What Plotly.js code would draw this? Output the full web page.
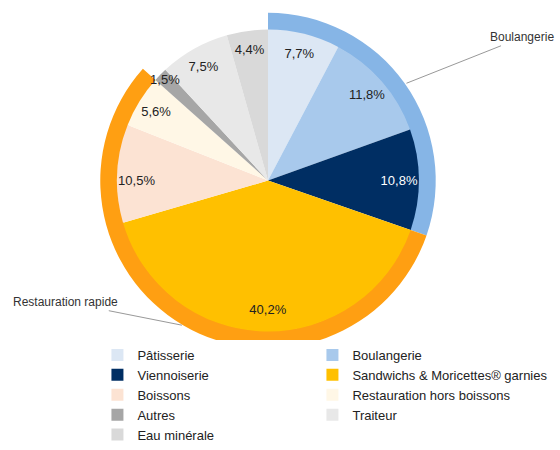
<!DOCTYPE html>
<html>
<head>
<meta charset="utf-8">
<script src="https://cdn.plot.ly/plotly-3.0.1.min.js"></script>
<style>
  html, body { margin: 0; padding: 0; background: #fff; }
  #plot { width: 560px; height: 450px; }
</style>
</head>
<body>
<div id="plot"></div>
<script>
// detail slices (clockwise from 12 o'clock)
var labels = ['Pâtisserie', 'Boulangerie', 'Viennoiserie', 'Sandwichs & Moricettes® garnies',
  'Boissons', 'Restauration hors boissons', 'Autres', 'Traiteur', 'Eau minérale'];
var values = [7.7, 11.8, 10.8, 40.2, 10.5, 5.6, 1.5, 7.5, 4.4];
var colors = ['#DCE7F4', '#A8C9EC', '#002E63', '#FFC000', '#FCE3D3', '#FFF7E6', '#A6A6A6', '#E8E8E8', '#D9D9D9'];
var textColors = ['#222', '#222', '#fff', '#222', '#222', '#222', '#222', '#222', '#222'];

// outer ring groups
var groupNames = ['Boulangerie', 'Restauration rapide', ''];
var groupValues = [30.3, 56.3, 13.4];
var groupColors = ['#86B5E6', '#FF9F12', 'rgba(0,0,0,0)'];

var W = 560, H = 450;
var cx = 268, cy = 183, rOuter = 170, rInner = 153;
var FONT = 'Liberation Sans, Arial, sans-serif';

function dom(r) {
  return {
    x: [(cx - r) / W, (cx + r) / W],
    y: [(H - cy - r) / H, (H - cy + r) / H]
  };
}

var ring = {
  type: 'pie',
  values: groupValues,
  labels: groupNames,
  marker: {colors: groupColors, line: {width: 0}},
  hole: 0.895,
  sort: false,
  direction: 'clockwise',
  rotation: 0,
  textinfo: 'none',
  hoverinfo: 'skip',
  showlegend: false,
  domain: dom(rOuter)
};

var pie = {
  type: 'pie',
  values: values,
  labels: labels,
  marker: {colors: colors, line: {width: 0}},
  sort: false,
  direction: 'clockwise',
  rotation: 0,
  textinfo: 'none',
  domain: dom(rInner)
};

// same slices again as a transparent donut: puts the percentages near the rim, above every wedge
var pieText = {
  type: 'pie',
  values: values,
  labels: labels,
  hole: 0.74,
  marker: {colors: colors.map(function () { return 'rgba(0,0,0,0)'; }), line: {width: 0}},
  sort: false,
  direction: 'clockwise',
  rotation: 0,
  texttemplate: '%{value:.1f}%',
  textposition: 'inside',
  insidetextorientation: 'horizontal',
  insidetextfont: {family: FONT, size: 13, color: textColors},
  showlegend: false,
  hoverinfo: 'skip',
  domain: dom(rInner)
};

// leader labels for the ring, pointing at the middle of each group arc
var total = groupValues.reduce(function (a, b) { return a + b; }, 0);
var cum = 0;
var mids = groupValues.map(function (v) {
  var a = (cum + v / 2) / total * 2 * Math.PI;
  cum += v;
  return {x: (cx + rOuter * Math.sin(a)) / W, y: (H - (cy - rOuter * Math.cos(a))) / H};
});
var offsets = [[116, -46], [-116, -23]];

var annotations = [0, 1].map(function (i) {
  return {
    xref: 'paper', yref: 'paper',
    x: mids[i].x, y: mids[i].y,
    text: groupNames[i],
    showarrow: true,
    arrowhead: 0,
    arrowwidth: 1,
    arrowcolor: '#999',
    ax: offsets[i][0], ay: offsets[i][1],
    font: {family: FONT, size: 12, color: '#333'}
  };
});

var layout = {
  width: W,
  height: H,
  margin: {l: 0, r: 0, t: 0, b: 0},
  paper_bgcolor: '#fff',
  separators: ', ',
  font: {family: FONT, size: 13, color: '#222'},
  uniformtext: {mode: 'show', minsize: 13},
  showlegend: true,
  legend: {
    orientation: 'h',
    x: 0.174, xanchor: 'left',
    y: 0.234, yanchor: 'top',
    entrywidth: 170,
    traceorder: 'normal',
    font: {size: 13, color: '#222'},
    itemclick: false
  },
  annotations: annotations
};

var gd = document.getElementById('plot');
Plotly.newPlot(gd, [ring, pie, pieText], layout, {displayModeBar: false, staticPlot: true}).then(function () {
  // the second legend column is wider than entrywidth: widen the legend clip so it is not cut
  gd.querySelectorAll('clipPath[id^="legend"] rect').forEach(function (r) {
    r.setAttribute('width', 500);
  });
});
</script>
</body>
</html>
